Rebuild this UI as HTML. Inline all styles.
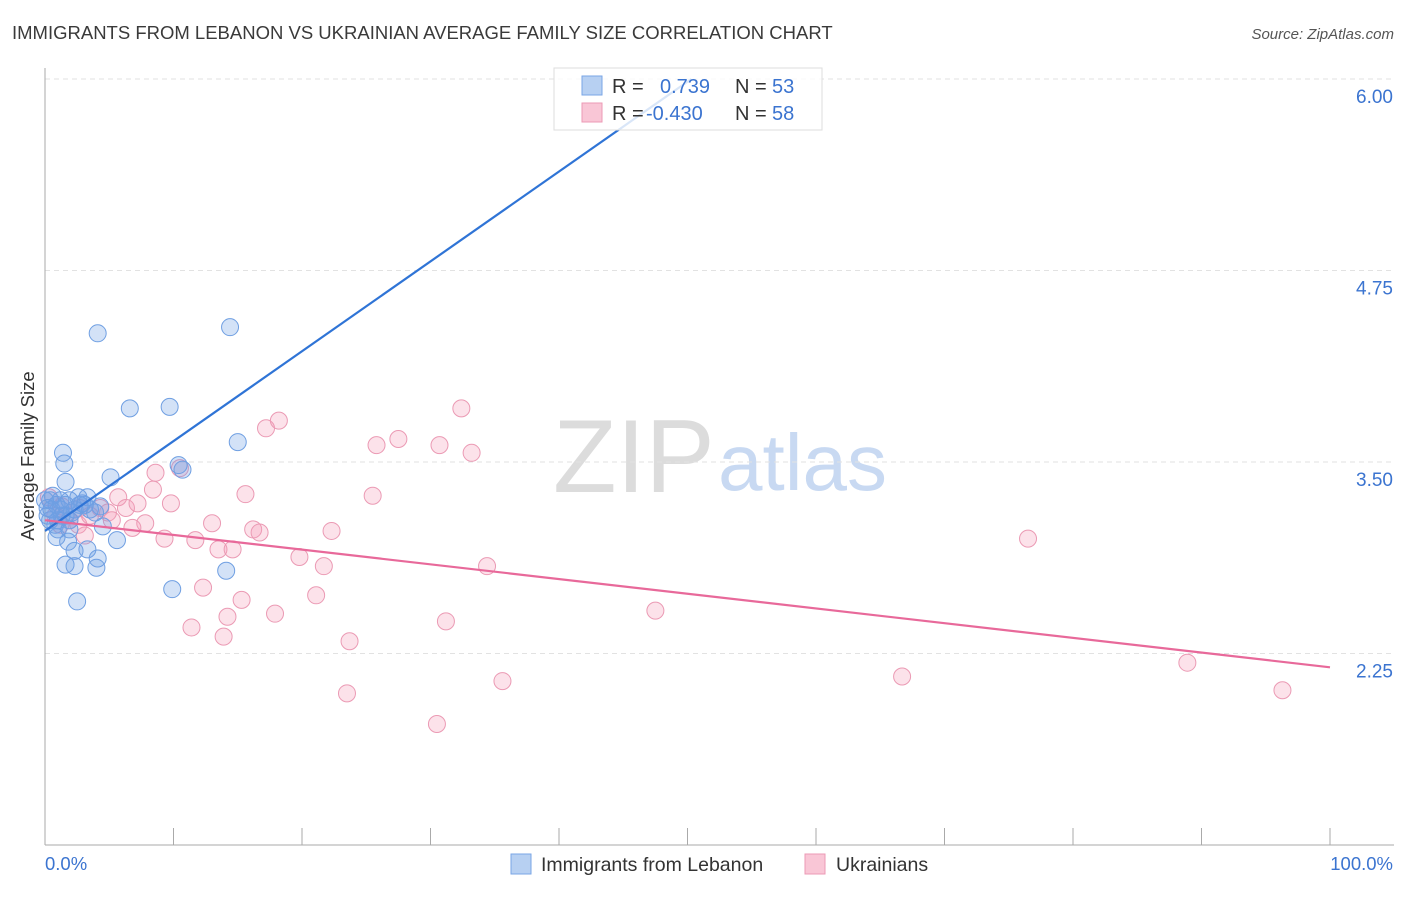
<!DOCTYPE html>
<html><head><meta charset="utf-8"><style>
body{margin:0;background:#fff;font-family:"Liberation Sans",sans-serif;}
svg text{font-family:"Liberation Sans",sans-serif;}
</style></head><body>
<svg id="chart" width="1406" height="892" viewBox="0 0 1406 892" xmlns="http://www.w3.org/2000/svg">
<text x="12" y="39" font-size="18.5" fill="#3a3a3a">IMMIGRANTS FROM LEBANON VS UKRAINIAN AVERAGE FAMILY SIZE CORRELATION CHART</text>
<text x="1394" y="39" font-size="15" fill="#555" text-anchor="end" font-style="italic">Source: ZipAtlas.com</text>
<g>
<text x="553" y="492" font-size="104" fill="#dcdcdc" font-family="Liberation Serif, serif">ZIP</text>
<text x="718" y="490" font-size="80" fill="#c8d9f2">atlas</text>
</g>
<g id="grid"></g>
<g id="axes"></g>
<g id="marks"></g>
<g>
<rect x="554" y="68" width="268" height="62" fill="#fff" fill-opacity="0.82" stroke="#ddd"/>
<rect x="582" y="76" width="20" height="19" fill="#b7d0f2" stroke="#7aa6e6"/>
<text x="612" y="93" font-size="20" fill="#333">R =</text>
<text x="660" y="93" font-size="20" fill="#3b74d0">0.739</text>
<text x="735" y="93" font-size="20" fill="#333">N =</text>
<text x="772" y="93" font-size="20" fill="#3b74d0">53</text>
<rect x="582" y="103" width="20" height="19" fill="#f9c6d6" stroke="#ec9ab5"/>
<text x="612" y="120" font-size="20" fill="#333">R =</text>
<text x="646" y="120" font-size="20" fill="#3b74d0">-0.430</text>
<text x="735" y="120" font-size="20" fill="#333">N =</text>
<text x="772" y="120" font-size="20" fill="#3b74d0">58</text>
</g>
<g>
<rect x="511" y="854" width="20" height="20" fill="#b7d0f2" stroke="#7aa6e6"/>
<text x="541" y="871" font-size="19.5" fill="#333">Immigrants from Lebanon</text>
<rect x="805" y="854" width="20" height="20" fill="#f9c6d6" stroke="#ec9ab5"/>
<text x="836" y="871" font-size="19.5" fill="#333">Ukrainians</text>
</g>
</svg>
<script>
const yTicks=[6.00,4.75,3.50,2.25];
const yTickLabels=["6.00","4.75","3.50","2.25"];
const xTicks=[0,10,20,30,40,50,60,70,80,90,100];
const blueX=[4.1,14.4,6.6,9.7,15.0,1.4,1.5,10.4,10.7,5.1,1.6,3.3,1.9,2.9,4.3,0.9,0.4,1.2,2.3,0.2,1.0,1.9,2.7,3.5,4.5,5.6,0.9,1.8,1.9,3.3,2.3,4.1,1.6,2.3,4.0,14.1,9.9,2.5,0.5,1.3,0.8,1.6,0.0,0.2,0.6,1.2,2.6,3.1,3.9,1.6,0.4,2.1,1.0];
const blueY=[4.34,4.38,3.85,3.86,3.63,3.56,3.49,3.48,3.45,3.40,3.37,3.27,3.25,3.23,3.21,3.22,3.25,3.19,3.19,3.15,3.12,3.12,3.22,3.19,3.08,2.99,3.01,2.98,3.06,2.93,2.92,2.87,2.83,2.82,2.81,2.79,2.67,2.59,3.19,3.15,3.09,3.22,3.25,3.20,3.28,3.25,3.27,3.22,3.17,3.15,3.12,3.17,3.06];
const pinkX=[1.3,0.3,0.8,1.9,2.6,3.1,4.3,4.9,5.7,6.3,7.2,7.8,6.8,8.4,8.6,9.8,10.5,9.3,11.7,13.0,13.5,14.6,12.3,15.3,11.4,13.9,14.2,15.6,16.2,16.7,17.2,18.2,19.8,17.9,21.7,21.1,22.3,23.7,23.5,25.8,25.5,27.5,30.7,32.4,33.2,34.4,31.2,30.5,35.6,47.5,66.7,76.5,88.9,96.3,3.5,5.2,1.2,2.7];
const pinkY=[3.21,3.27,3.15,3.12,3.09,3.02,3.20,3.17,3.27,3.20,3.23,3.10,3.07,3.32,3.43,3.23,3.46,3.00,2.99,3.10,2.93,2.93,2.68,2.60,2.42,2.36,2.49,3.29,3.06,3.04,3.72,3.77,2.88,2.51,2.82,2.63,3.05,2.33,1.99,3.61,3.28,3.65,3.61,3.85,3.56,2.82,2.46,1.79,2.07,2.53,2.10,3.00,2.19,2.01,3.15,3.12,3.09,3.20];
const blueTrend=[[0,3.05],[50.3,6.0]];
const pinkTrend=[[0,3.12],[100,2.16]];
const NS="http://www.w3.org/2000/svg";
const X=v=>45+v*12.85;
const Y=v=>79+(6-v)*153.2;
function mk(t,a,p){const e=document.createElementNS(NS,t);for(const k in a)e.setAttribute(k,a[k]);document.getElementById(p).appendChild(e);return e;}
yTicks.forEach((t,i)=>{
 const g=mk('line',{x1:45,x2:1394,y1:Y(t),y2:Y(t),stroke:'#e2e2e2','stroke-dasharray':'5,4'},'grid');
 
 
 const l=mk('text',{x:1393,y:Y(t)+24,'font-size':19,fill:'#3b74d0','text-anchor':'end'},'axes');
 l.textContent=yTickLabels[i];
 
 
});
const ya=mk('line',{x1:45,x2:45,y1:68,y2:845,stroke:'#aaa'},'axes');


const xa=mk('line',{x1:45,x2:1394,y1:845,y2:845,stroke:'#aaa'},'axes');


xTicks.forEach(t=>{
 const k=mk('line',{x1:X(t),x2:X(t),y1:828,y2:845,stroke:'#aaa'},'axes');
 
 
});
const xl0=mk('text',{x:45,y:870,'font-size':18.5,fill:'#3b74d0'},'axes');xl0.textContent='0.0%';


const xl1=mk('text',{x:1393,y:870,'font-size':18.5,fill:'#3b74d0','text-anchor':'end'},'axes');xl1.textContent='100.0%';


const yt=mk('text',{x:34,y:456,'font-size':18.5,fill:'#333','text-anchor':'middle',transform:'rotate(-90 34 456)'},'axes');yt.textContent='Average Family Size';


pinkX.forEach((x,i)=>{
 const c=mk('circle',{cx:X(x),cy:Y(pinkY[i]),r:8.5,fill:'rgba(244,150,180,0.28)',stroke:'#eb9ab4','stroke-width':1},'marks');
 
 
});
blueX.forEach((x,i)=>{
 const c=mk('circle',{cx:X(x),cy:Y(blueY[i]),r:8.5,fill:'rgba(110,160,230,0.3)',stroke:'#6f9fe2','stroke-width':1},'marks');
 
 
});
const bl=mk('line',{x1:X(blueTrend[0][0]),y1:Y(blueTrend[0][1]),x2:X(blueTrend[1][0]),y2:Y(blueTrend[1][1]),stroke:'#2f74d6','stroke-width':2.2},'marks');


const pl=mk('line',{x1:X(pinkTrend[0][0]),y1:Y(pinkTrend[0][1]),x2:X(pinkTrend[1][0]),y2:Y(pinkTrend[1][1]),stroke:'#e8699a','stroke-width':2.2},'marks');


</script>
</body></html>
